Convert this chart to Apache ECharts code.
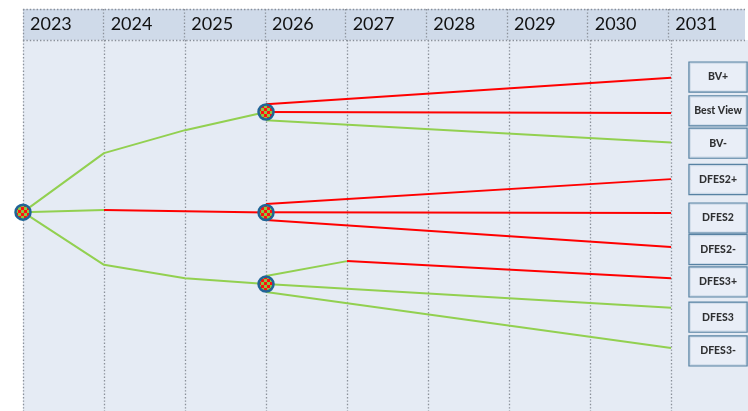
<!DOCTYPE html>
<html>
<head>
<meta charset="utf-8">
<script src="https://cdn.jsdelivr.net/npm/echarts@6/dist/echarts.min.js"></script>
<style>
  html, body { margin: 0; padding: 0; background: #ffffff; }
  #chart { width: 748px; height: 411px; }
</style>
</head>
<body>
<div id="chart"></div>
<script>
// years on the header
const years = [2023, 2024, 2025, 2026, 2027, 2028, 2029, 2030, 2031]

// scenario level (0 = top of plot, 100 = bottom)
const nodes = [[2023, 46.4], [2026, 19.4], [2026, 46.5], [2026, 65.8]]

const greenPaths = [
  [[2023, 46.4], [2024, 30.5], [2025, 24.3], [2026, 19.4]],
  [[2023, 46.4], [2024, 45.8]],
  [[2023, 46.4], [2024, 60.6], [2025, 64.2], [2026, 65.8]],
  [[2026, 21.6], [2031, 27.6]],
  [[2026, 63.6], [2027, 59.6]],
  [[2026, 65.8], [2031, 72.2]],
  [[2026, 67.9], [2031, 83.0]]
]

const redPaths = [
  [[2024, 45.8], [2026, 46.5]],
  [[2026, 17.3], [2031, 10.2]],
  [[2026, 19.4], [2031, 19.7]],
  [[2026, 44.2], [2031, 37.5]],
  [[2026, 46.4], [2031, 46.6]],
  [[2026, 48.5], [2031, 55.8]],
  [[2027, 59.6], [2031, 64.2]]
]

const outcomeNames = ["BV+", "Best View", "BV-", "DFES2+", "DFES2", "DFES2-", "DFES3+", "DFES3", "DFES3-"]
const outcomeLevels = [10.0, 19.1, 27.8, 37.6, 48.0, 56.5, 65.2, 74.7, 83.8]
const outcomeX = 2031.58

// checkered fill for the decision nodes
const makeChecker = () => {
  const c = document.createElement("canvas")
  c.width = 6
  c.height = 6
  const ctx = c.getContext("2d")
  ctx.fillStyle = "#ff1010"
  ctx.fillRect(0, 0, 6, 6)
  ctx.fillStyle = "#8cc63f"
  ctx.fillRect(3, 0, 3, 3)
  ctx.fillRect(0, 3, 3, 3)
  return c
}
const checker = makeChecker()

const dotted = { color: "#8a9099", width: 1.3, type: [1.4, 2] }

const xBase = {
  type: "value",
  min: 2023,
  max: 2031.95,
  interval: 1,
  axisLine: { show: false },
  axisTick: { show: false },
  splitLine: { show: true, showMaxLine: false, lineStyle: dotted }
}

const lineSeries = (paths, color) => paths.map(p => ({
  type: "line",
  xAxisIndex: 1,
  yAxisIndex: 1,
  data: p,
  symbol: "none",
  silent: true,
  lineStyle: { color: color, width: 2 },
  z: color === "#ff0000" ? 3 : 2
}))

const chart = echarts.init(document.getElementById("chart"))
chart.setOption({
  animation: false,
  grid: [
    { left: 23, right: 0, top: 9, height: 31, show: true, backgroundColor: "#cfdae9", borderWidth: 0 },
    { left: 23, right: 0, top: 40, bottom: 0, show: true, backgroundColor: "#e5ebf4", borderWidth: 0 }
  ],
  xAxis: [
    Object.assign({}, xBase, {
      gridIndex: 0,
      position: "top",
      axisLabel: {
        show: true,
        inside: true,
        margin: 15,
        align: "left",
        verticalAlign: "middle",
        padding: [0, 0, 0, 7],
        color: "#111111",
        fontFamily: "Lato",
        fontSize: 18,
        formatter: v => years.includes(v) ? String(v) : ""
      }
    }),
    Object.assign({}, xBase, { gridIndex: 1, axisLabel: { show: false } })
  ],
  yAxis: [
    {
      gridIndex: 0, type: "value", min: 0, max: 1, interval: 1,
      axisLine: { show: false }, axisTick: { show: false }, axisLabel: { show: false },
      splitLine: { show: true, lineStyle: dotted }
    },
    {
      gridIndex: 1, type: "value", min: 0, max: 100, inverse: true,
      axisLine: { show: false }, axisTick: { show: false }, axisLabel: { show: false },
      splitLine: { show: false }
    }
  ],
  series: [
    ...lineSeries(greenPaths, "#92d050"),
    ...lineSeries(redPaths, "#ff0000"),
    {
      type: "custom",
      xAxisIndex: 1,
      yAxisIndex: 1,
      clip: false,
      silent: true,
      data: nodes,
      renderItem: (params, api) => {
        const p = api.coord([api.value(0), api.value(1)])
        return {
          type: "circle",
          shape: { cx: p[0], cy: p[1], r: 7.5 },
          style: {
            fill: { image: checker, repeat: "repeat" },
            stroke: "#1f6496",
            lineWidth: 2.5
          }
        }
      },
      z: 5
    },
    {
      type: "scatter",
      xAxisIndex: 1,
      yAxisIndex: 1,
      clip: false,
      silent: true,
      data: outcomeLevels.map((y, i) => ({ value: [outcomeX, y], name: outcomeNames[i] })),
      symbol: "rect",
      symbolSize: 1,
      itemStyle: { color: "rgba(0,0,0,0)" },
      label: {
        show: true,
        position: "inside",
        formatter: "{b}",
        width: 57,
        height: 29,
        lineHeight: 29,
        align: "center",
        verticalAlign: "middle",
        backgroundColor: "#eaeff7",
        borderColor: "#33688f",
        borderWidth: 1.2,
        color: "#000000",
        fontFamily: "Lato",
        fontWeight: 900,
        fontSize: 10.5
      },
      z: 6
    }
  ]
})
</script>
</body>
</html>
